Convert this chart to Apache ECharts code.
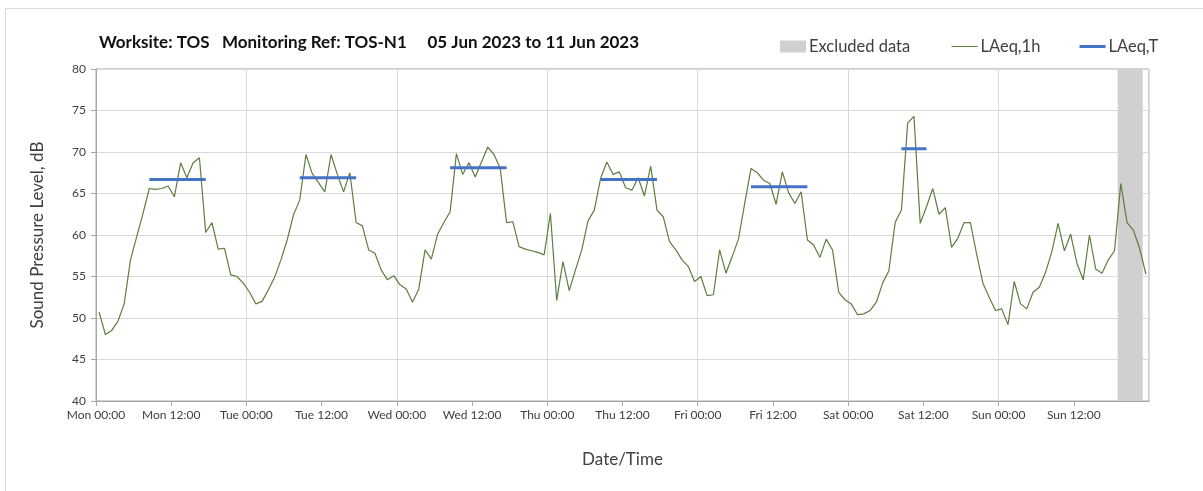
<!DOCTYPE html>
<html>
<head>
<meta charset="utf-8">
<script src="https://cdn.jsdelivr.net/npm/echarts@6/dist/echarts.min.js"></script>
<style>
  html, body { margin: 0; padding: 0; background: #fff; }
  #chart { width: 1203px; height: 491px; }
</style>
</head>
<body>
<div id="chart"></div>
<script>
// day names used for the x tick labels (one tick every 12 h)
const dayNames = ['Mon', 'Tue', 'Wed', 'Thu', 'Fri', 'Sat', 'Sun', 'Mon'];

// hourly LAeq,1h readings, Mon 00:00 -> Sun 23:00 (dB)
const laeq1h = [
  50.7, 48.0, 48.5, 49.6, 51.7, 57.0, 59.8, 62.6, 65.6, 65.5, 65.6, 65.9, 64.6, 68.7, 66.9, 68.7, 69.3, 60.3, 61.5, 58.3, 58.4, 55.2, 55.0, 54.2,
  53.1, 51.7, 52.0, 53.4, 54.9, 57.0, 59.4, 62.4, 64.2, 69.7, 67.4, 66.3, 65.2, 69.7, 67.3, 65.2, 67.5, 61.5, 61.1, 58.2, 57.8, 55.8, 54.6, 55.1,
  54.0, 53.5, 51.9, 53.5, 58.2, 57.1, 60.1, 61.5, 62.8, 69.8, 67.3, 68.7, 67.0, 68.8, 70.6, 69.7, 68.0, 61.5, 61.6, 58.6, 58.3, 58.1, 57.9, 57.6,
  62.6, 52.1, 56.8, 53.3, 55.8, 58.2, 61.7, 63.0, 66.8, 68.8, 67.3, 67.6, 65.7, 65.4, 66.9, 64.7, 68.3, 63.0, 62.2, 59.2, 58.2, 57.0, 56.2, 54.4,
  55.0, 52.7, 52.8, 58.2, 55.4, 57.4, 59.5, 63.8, 68.0, 67.5, 66.6, 66.2, 63.7, 67.6, 65.1, 63.8, 65.2, 59.4, 58.8, 57.3, 59.5, 58.2, 53.1, 52.2,
  51.7, 50.4, 50.5, 50.9, 51.9, 54.2, 55.7, 61.5, 63.0, 73.5, 74.3, 61.4, 63.4, 65.6, 62.5, 63.3, 58.5, 59.6, 61.5, 61.5, 57.7, 54.2, 52.5, 50.9,
  51.1, 49.2, 54.4, 51.7, 51.1, 53.1, 53.7, 55.5, 58.0, 61.4, 58.1, 60.1, 56.6, 54.6, 60.0, 55.9, 55.4, 57.0, 58.1, 66.2, 61.5, 60.6, 58.4, 55.3
];

// LAeq,T daytime periods (hour index from Mon 00:00)
const periodStart = [8, 32, 56, 80, 104, 128];
const periodEnd = [17, 41, 65, 89, 113, 132];
const periodValue = [66.7, 66.9, 68.1, 66.7, 65.8, 70.4];

// excluded data window (hour index)
const excludedStart = [163];
const excludedEnd = [167];

const fontFamily = 'Lato, "Open Sans", sans-serif';

const chart = echarts.init(document.getElementById('chart'));

// readings are plotted at the middle of their hour
const lineData = laeq1h.map((v, i) => [i + 0.5, v]);

const periodSeries = periodStart.map((s, i) => ({
  name: 'LAeq,T',
  type: 'line',
  symbol: 'none',
  lineStyle: { color: '#4472C4', width: 3 },
  itemStyle: { color: '#4472C4' },
  z: 4,
  data: [[s + 0.5, periodValue[i]], [periodEnd[i] + 0.5, periodValue[i]]]
}));

function legendAt(left, item) {
  return {
    left: left,
    top: 33,
    itemWidth: 26,
    itemHeight: 12,
    textStyle: { fontSize: 16.5, color: '#404040', fontFamily: fontFamily, padding: [0, 0, 0, -2] },
    data: [item]
  };
}

const option = {
  animation: false,
  textStyle: { fontFamily: fontFamily },
  title: {
    text: 'Worksite: TOS   Monitoring Ref: TOS-N1     05 Jun 2023 to 11 Jun 2023',
    left: 94,
    top: 29,
    textStyle: { fontSize: 17, fontWeight: 'bold', color: '#111', fontFamily: fontFamily }
  },
  legend: [
    legendAt(775, { name: 'Excluded data', icon: 'rect', itemStyle: { color: '#D0D0D0' } }),
    legendAt(946, { name: 'LAeq,1h', itemStyle: { opacity: 0 }, lineStyle: { width: 1 } }),
    legendAt(1073, { name: 'LAeq,T', itemStyle: { opacity: 0 }, lineStyle: { width: 3 } })
  ],
  grid: {
    left: 96,
    right: 54,
    top: 69,
    bottom: 90,
    show: true,
    borderColor: '#A6A6A6',
    borderWidth: 1
  },
  xAxis: [
    {
      type: 'value',
      min: 0,
      max: 168,
      interval: 12,
      name: 'Date/Time',
      nameLocation: 'middle',
      nameGap: 50,
      nameTextStyle: { fontSize: 17, color: '#404040' },
      axisLine: { show: true, lineStyle: { color: '#A6A6A6' } },
      axisTick: { show: true, length: 5, lineStyle: { color: '#A6A6A6' } },
      splitLine: { show: false },
      axisLabel: {
        fontSize: 12,
        color: '#404040',
        margin: 8,
        showMaxLabel: false,
        formatter: v => dayNames[Math.floor(v / 24)] + ' ' + (v % 24 === 0 ? '00:00' : '12:00')
      }
    },
    {
      // only draws the daily vertical grid lines
      type: 'value',
      min: 0,
      max: 168,
      interval: 24,
      position: 'bottom',
      axisLine: { show: false },
      axisTick: { show: false },
      axisLabel: { show: false },
      splitLine: { show: true, lineStyle: { color: '#D9D9D9', width: 1 } }
    }
  ],
  yAxis: {
    type: 'value',
    min: 40,
    max: 80,
    interval: 5,
    name: 'Sound Pressure Level, dB',
    nameLocation: 'middle',
    nameGap: 50,
    nameTextStyle: { fontSize: 17, color: '#404040' },
    axisLine: { show: true, lineStyle: { color: '#A6A6A6' } },
    axisTick: { show: true, length: 5, lineStyle: { color: '#A6A6A6' } },
    axisLabel: { fontSize: 12, color: '#404040', margin: 10 },
    splitLine: { show: true, lineStyle: { color: '#D9D9D9', width: 1 } }
  },
  series: [
    {
      name: 'Excluded data',
      type: 'custom',
      itemStyle: { color: '#D0D0D0' },
      silent: true,
      z: 1,
      data: excludedStart.map((s, i) => [s, excludedEnd[i]]),
      renderItem: function (params, api) {
        const p0 = api.coord([api.value(0), 80]);
        const p1 = api.coord([api.value(1), 40]);
        return {
          type: 'rect',
          shape: { x: p0[0], y: p0[1], width: p1[0] - p0[0], height: p1[1] - p0[1] },
          style: { fill: '#D0D0D0' }
        };
      }
    },
    {
      name: 'LAeq,1h',
      type: 'line',
      symbol: 'none',
      lineStyle: { color: '#5E7D3F', width: 1.2 },
      itemStyle: { color: '#5E7D3F' },
      z: 3,
      data: lineData
    }
  ].concat(periodSeries),
  graphic: [
    // outer chart frame: only its top and left edges fall inside the picture
    {
      type: 'polyline',
      shape: { points: [[5.5, 491], [5.5, 8.5], [1203, 8.5]] },
      style: { fill: null, stroke: '#D9D9D9', lineWidth: 1 },
      silent: true
    }
  ]
};

chart.setOption(option);
</script>
</body>
</html>
